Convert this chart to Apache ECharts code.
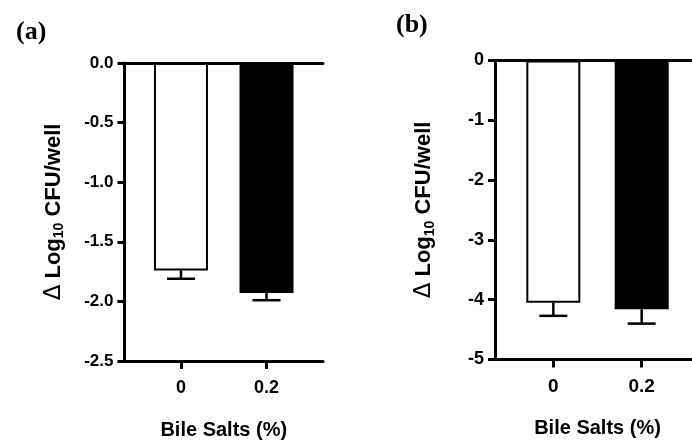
<!DOCTYPE html>
<html>
<head>
<meta charset="utf-8">
<script src="https://cdn.jsdelivr.net/npm/echarts@6/dist/echarts.min.js"></script>
<style>html,body{margin:0;padding:0;background:#fff}#c{width:692px;height:441px}</style>
</head>
<body>
<div id="c"></div>
<script>
// ---- data ----
const categories = ['0', '0.2'];
const meansA = [-1.74, -1.93];
const errA = [0.07, 0.06];
const meansB = [-4.05, -4.16];
const errB = [0.22, 0.24];
const panelTitles = ['(a)', '(b)'];
const xName = 'Bile Salts (%)';
const barColors = ['#ffffff', '#000000'];

const SANS = '"Liberation Sans", Arial, sans-serif';
const SERIF = '"Liberation Serif", "DejaVu Serif", serif';

const chart = echarts.init(document.getElementById('c'), null, {renderer: 'canvas'});

function yName() {
  return '{d|Δ}{t| Log}{s|10}{t| CFU/well}';
}
const yNameStyle = {
  rich: {
    d: {fontSize: 23, fontWeight: 'normal', fontFamily: '"DejaVu Sans", sans-serif', color: '#000', verticalAlign: 'top', lineHeight: 23},
    t: {fontSize: 22, fontWeight: 'bold', fontFamily: SANS, color: '#000', verticalAlign: 'top', lineHeight: 23},
    s: {fontSize: 14, fontWeight: 'bold', fontFamily: SANS, color: '#000', verticalAlign: 'top', padding: [10, 0, 0, 0]}
  }
};

function makeX(gridIndex, labelSize) {
  return {
    type: 'value', gridIndex: gridIndex, min: -0.66, max: 1.66,
    position: 'bottom',
    name: xName, nameLocation: 'middle', nameGap: 59,
    nameTextStyle: {fontSize: 20, fontWeight: 'bold', fontFamily: SANS, color: '#000'},
    splitLine: {show: false},
    axisLine: {show: true, onZero: false, lineStyle: {color: '#000', width: 3}},
    axisTick: {show: true, customValues: [0, 1], length: 8, lineStyle: {color: '#000', width: 3}},
    axisLabel: {show: true, customValues: [0, 1], margin: 18, fontSize: labelSize, fontWeight: 'bold', fontFamily: SANS, color: '#000',
      formatter: v => categories[Math.round(v)]}
  };
}
function makeTopX(gridIndex) {
  return {
    type: 'value', gridIndex: gridIndex, min: -0.66, max: 1.66, position: 'top',
    splitLine: {show: false},
    axisLine: {show: true, onZero: false, lineStyle: {color: '#000', width: 3}},
    axisTick: {show: false}, axisLabel: {show: false}
  };
}
function makeY(gridIndex, min, interval, digits, labelSize) {
  return {
    type: 'value', gridIndex: gridIndex, min: min, max: 0, interval: interval,
    name: yName(), nameLocation: 'middle', nameGap: 58, nameRotate: 90,
    nameTextStyle: yNameStyle,
    splitLine: {show: false},
    axisLine: {show: true, onZero: false, lineStyle: {color: '#000', width: 3}},
    axisTick: {show: true, length: 7, lineStyle: {color: '#000', width: 3}},
    axisLabel: {margin: 11, fontSize: labelSize, fontWeight: 'bold', fontFamily: SANS, color: '#000',
      formatter: v => v.toFixed(digits)}
  };
}
function barSeries(xi, yi, means) {
  return {
    type: 'bar', xAxisIndex: xi, yAxisIndex: yi, barWidth: 54,
    data: means.map((m, i) => ({
      value: [i, m],
      itemStyle: {color: barColors[i], borderColor: '#000', borderWidth: 2}
    })),
    silent: true, animation: false
  };
}
function errSeries(xi, yi, means, errs) {
  return {
    type: 'custom', xAxisIndex: xi, yAxisIndex: yi, z: 5,
    data: means.map((m, i) => [i, m, errs[i]]),
    renderItem: function (params, api) {
      const x = api.value(0), y = api.value(1), e = api.value(2);
      const p0 = api.coord([x, y]);
      const p1 = api.coord([x, y - e]);
      const half = 14;
      const st = {stroke: '#000', lineWidth: 2.5};
      return {type: 'group', children: [
        {type: 'line', shape: {x1: p0[0], y1: p0[1], x2: p1[0], y2: p1[1]}, style: st},
        {type: 'line', shape: {x1: p1[0] - half, y1: p1[1], x2: p1[0] + half, y2: p1[1]}, style: st}
      ]};
    },
    silent: true, animation: false
  };
}

chart.setOption({
  animation: false,
  backgroundColor: '#fff',
  title: [
    {text: panelTitles[0], left: 11, top: 14, textStyle: {fontFamily: SERIF, fontWeight: 'bold', fontSize: 26, color: '#000'}},
    {text: panelTitles[1], left: 391, top: 7, textStyle: {fontFamily: SERIF, fontWeight: 'bold', fontSize: 26, color: '#000'}}
  ],
  grid: [
    {left: 124.5, top: 63, width: 198.5, height: 298, outerBoundsMode: 'none', containLabel: false},
    {left: 495, top: 60.5, width: 205, height: 299, outerBoundsMode: 'none', containLabel: false}
  ],
  xAxis: [makeX(0, 18), makeTopX(0), makeX(1, 19), makeTopX(1)],
  yAxis: [makeY(0, -2.5, 0.5, 1, 17), makeY(1, -5, 1, 0, 18)],
  series: [
    barSeries(0, 0, meansA), errSeries(0, 0, meansA, errA),
    barSeries(2, 1, meansB), errSeries(2, 1, meansB, errB)
  ]
});
</script>
</body>
</html>
